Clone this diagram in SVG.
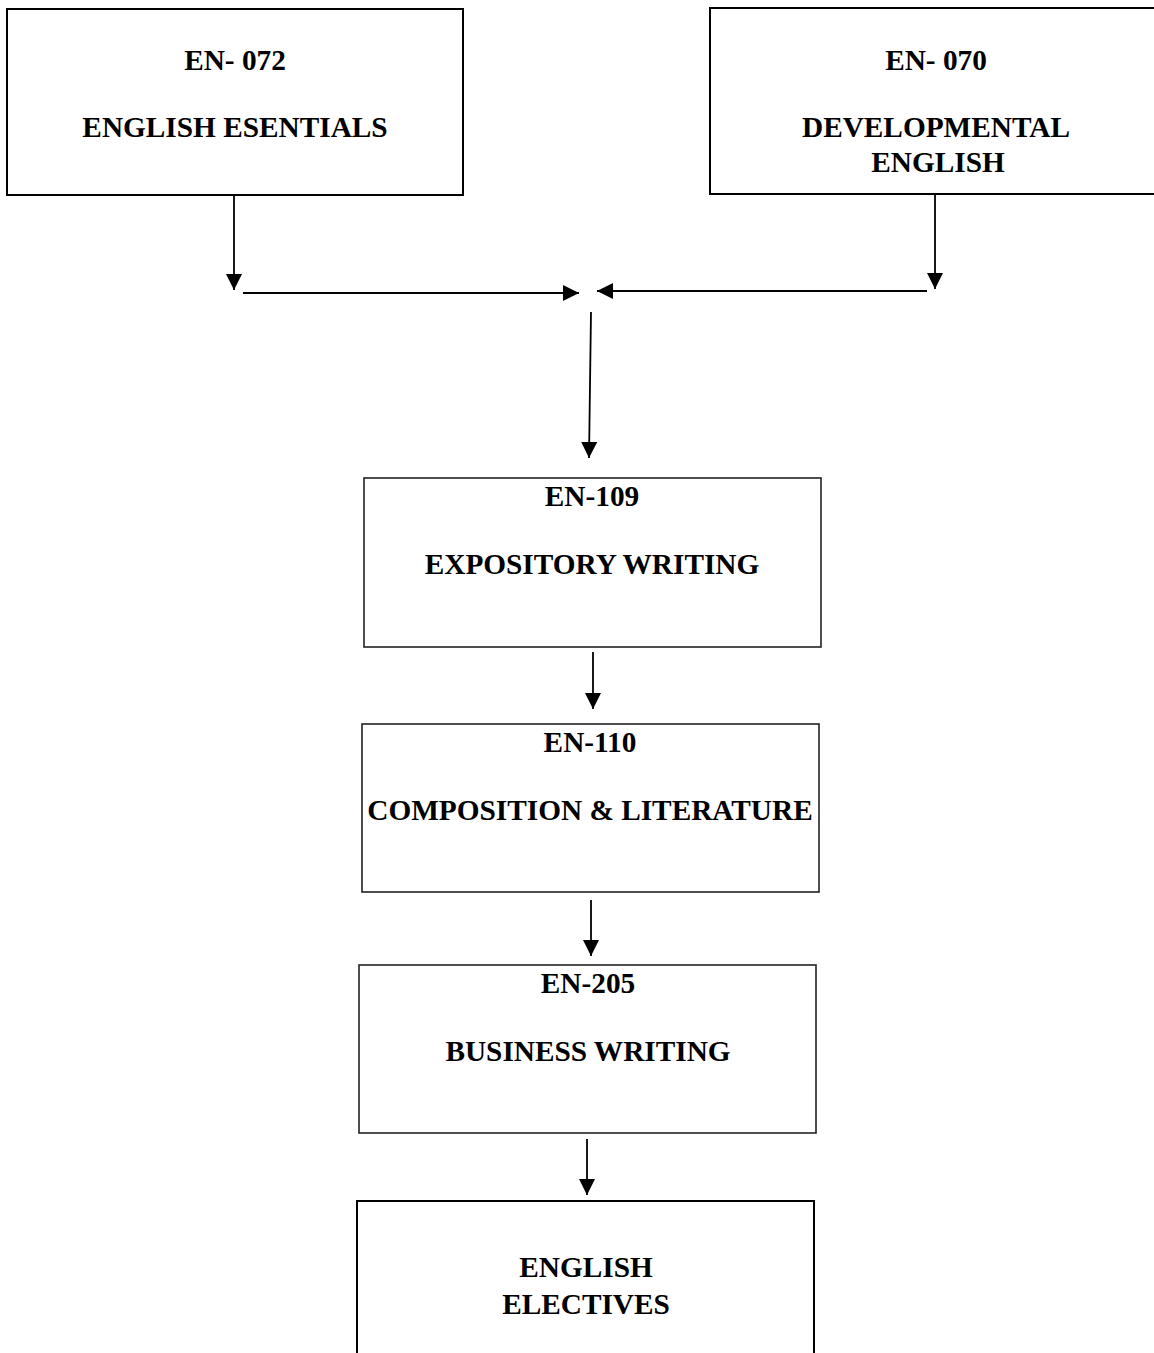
<svg xmlns="http://www.w3.org/2000/svg" width="1154" height="1353" viewBox="0 0 1154 1353">
<style>
.box{fill:#fff;stroke:#000;stroke-width:2}
.box2{fill:#fff;stroke:#222;stroke-width:1.6}
.t{font-family:"Liberation Serif","Times New Roman",serif;font-weight:bold;font-size:29.3px;fill:#000;text-anchor:middle}
.c{stroke:#000;stroke-width:1.8;fill:none}
</style>
<defs>
<marker id="ah" markerUnits="userSpaceOnUse" viewBox="0 0 16 16" refX="16" refY="8" markerWidth="16" markerHeight="16" orient="auto">
<path d="M0,0 L16,8 L0,16 z" fill="#000"/>
</marker>
</defs>
<rect width="1154" height="1353" fill="#fff"/>
<g id="connectors">
<line class="c" x1="234" y1="195" x2="234" y2="290" marker-end="url(#ah)"/>
<line class="c" x1="935" y1="194" x2="935" y2="289" marker-end="url(#ah)"/>
<line class="c" x1="243" y1="293" x2="579" y2="293" marker-end="url(#ah)"/>
<line class="c" x1="927" y1="291" x2="597" y2="291" marker-end="url(#ah)"/>
<line class="c" x1="591" y1="312" x2="589" y2="458" marker-end="url(#ah)"/>
<line class="c" x1="593" y1="652" x2="593" y2="709" marker-end="url(#ah)"/>
<line class="c" x1="591" y1="900" x2="591" y2="956" marker-end="url(#ah)"/>
<line class="c" x1="587" y1="1139" x2="587" y2="1195" marker-end="url(#ah)"/>
</g>
<g id="en072">
<rect class="box" x="7" y="9" width="456" height="186"/>
<text class="t" x="235" y="70">EN- 072</text>
<text class="t" x="235" y="137">ENGLISH ESENTIALS</text>
</g>
<g id="en070">
<rect class="box" x="710" y="8" width="460" height="186"/>
<text class="t" x="936" y="70">EN- 070</text>
<text class="t" x="936" y="137">DEVELOPMENTAL</text>
<text class="t" x="938" y="172">ENGLISH</text>
</g>
<g id="en109">
<rect class="box2" x="364" y="478" width="457" height="169"/>
<text class="t" x="592" y="506">EN-109</text>
<text class="t" x="592" y="574">EXPOSITORY WRITING</text>
</g>
<g id="en110">
<rect class="box2" x="362" y="724" width="457" height="168"/>
<text class="t" x="590" y="752">EN-110</text>
<text class="t" x="590" y="820">COMPOSITION &amp; LITERATURE</text>
</g>
<g id="en205">
<rect class="box2" x="359" y="965" width="457" height="168"/>
<text class="t" x="588" y="993">EN-205</text>
<text class="t" x="588" y="1061">BUSINESS WRITING</text>
</g>
<g id="electives">
<rect class="box" x="357" y="1201" width="457" height="200"/>
<text class="t" x="586" y="1277">ENGLISH</text>
<text class="t" x="586" y="1314">ELECTIVES</text>
</g>
</svg>
